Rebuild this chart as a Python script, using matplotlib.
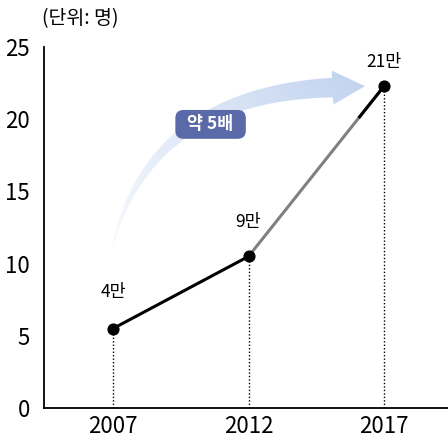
import numpy as np
import matplotlib
matplotlib.use('Agg')
import matplotlib.pyplot as plt
from matplotlib.patches import Polygon, FancyBboxPatch

plt.rcParams['font.family'] = ['Noto Sans CJK KR', 'DejaVu Sans']

years = [2007, 2012, 2017]
values = [5.5, 10.5, 22.3]
labels = ['4만', '9만', '21만']
yticks = [0, 5, 10, 15, 20, 25]

fig = plt.figure(figsize=(4.48, 4.41), dpi=100)
ax = fig.add_axes([0.098, 0.075, 0.902, 0.818])
ax.set_xlim(2004.45, 2019.36)
ax.set_ylim(0, 25)

for s in ['top', 'right']:
    ax.spines[s].set_visible(False)
for s in ['left', 'bottom']:
    ax.spines[s].set_linewidth(1.3)
ax.spines['left'].set_bounds(0, 25)

ax.set_xticks(years)
ax.set_xticklabels([str(y) for y in years])
ax.set_yticks(yticks)
ax.tick_params(length=0, labelsize=16)
ax.tick_params(axis='y', pad=10)
ax.tick_params(axis='x', pad=5)

# dotted drop lines
for x, v in zip(years, values):
    ax.plot([x, x], [0, v], color='black', lw=1, ls=(0, (1, 1.5)), zorder=2)

# lines
ax.plot(years[:2], values[:2], color='black', lw=2.2, zorder=3)
ax.plot(years[1:], values[1:], color='#808080', lw=2.2, zorder=3)
f = 0.82
xm = years[1] + f * (years[2] - years[1])
ym = values[1] + f * (values[2] - values[1])
ax.plot([xm, years[2]], [ym, values[2]], color='black', lw=2.2, zorder=3)
ax.scatter(years, values, s=60, color='black', zorder=4)

offsets = [2.5, 2.4, 1.7]
for x, v, lab, o in zip(years, values, labels, offsets):
    ax.text(x, v + o, lab, ha='center', va='center', fontsize=12.5)

# curved arrow with gradient
fig.canvas.draw()
P0 = np.array([2007.0, 11.3])
P1 = np.array([2008.4, 21.7])
P2 = np.array([2015.1, 22.2])
tip = np.array([2016.3, 22.3])
t = np.linspace(0, 1, 80)
curve = ((1 - t)[:, None] ** 2) * P0 + (2 * (1 - t) * t)[:, None] * P1 + (t ** 2)[:, None] * P2
disp = ax.transData.transform(curve)
d = np.gradient(disp, axis=0)
n = np.column_stack([-d[:, 1], d[:, 0]])
n /= np.linalg.norm(n, axis=1)[:, None]
w = 0.3 + 9.5 * t ** 0.8
upper = disp + n * w[:, None]
lower = disp - n * w[:, None]
base = disp[-1]
nb = n[-1]
tipd = ax.transData.transform(tip)
head = [base + nb * 17, tipd, base - nb * 17]
poly_disp = np.vstack([upper, head, lower[::-1]])
poly = ax.transData.inverted().transform(poly_disp)
patch = Polygon(poly, closed=True, facecolor='none', edgecolor='none')
ax.add_patch(patch)
gx, gy = np.meshgrid(np.linspace(0, 1, 200), np.linspace(0, 1, 200))
alpha = np.clip(0.15 + 0.85 * (0.6 * gx + 0.4 * gy), 0, 1) ** 1.2
img = np.zeros((200, 200, 4))
img[..., 0] = 0.75
img[..., 1] = 0.82
img[..., 2] = 0.94
img[..., 3] = alpha
im = ax.imshow(img, extent=[2006.5, 2016.5, 10.5, 23.5], origin='lower',
               aspect='auto', zorder=1, interpolation='bilinear')
im.set_clip_path(patch)
ax.set_xlim(2004.45, 2019.36)
ax.set_ylim(0, 25)

# badge
bx, by = 2010.6, 19.65
bw, bh = 2.6, 2.0
box = FancyBboxPatch((bx - bw / 2, by - bh / 2), bw, bh,
                     boxstyle='round,pad=0,rounding_size=0.3',
                     mutation_aspect=27.1 / 14.4,
                     facecolor='#5a69a8', edgecolor='none', zorder=5)
ax.add_patch(box)
ax.text(bx, by, '약 5배', color='white', ha='center', va='center',
        fontsize=12.5, fontweight='bold', zorder=6)

fig.text(0.094, 0.957, '(단위: 명)', ha='left', va='center', fontsize=14)

fig.savefig('out.png', dpi=100)
